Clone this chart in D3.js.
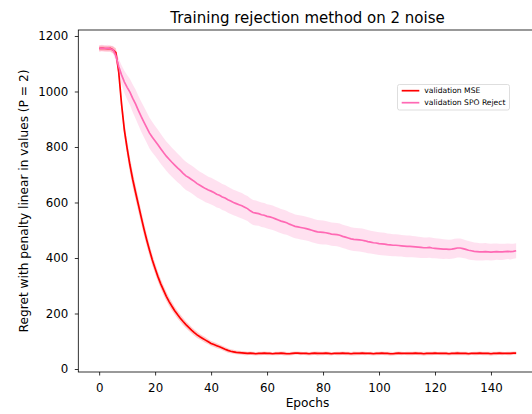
<!DOCTYPE html>
<html lang="en">
<head>
    <meta charset="UTF-8">
    <title>Training rejection method on 2 noise</title>
    <script src="https://d3js.org/d3.v7.min.js"></script>
    <style>
        body { margin: 0; background: #fff; }
        svg { font-family: "DejaVu Sans", sans-serif; }
    </style>
</head>
<body>
    <div class="chart"></div>
    <script>
        // validation MSE, mean per epoch
        const mseMean = [
            1155,1156,1155,1154,1155,1150,1140,1070,955,862,
            795,735,683,637,593,548,505,465,428,393,
            362,333,307,284,262,243,226,210,196,183,
            171,160,150,140,131,123,116,110,104,98,
            92,88,84,80,76,71,67,64,62,60,
            59,58,57,56,57,56,55,56,56,57,
            56,56,55,56,56,57,56,55,55,56,
            57,57,56,56,56,55,56,57,56,56,
            56,57,56,55,56,56,56,57,56,56,
            55,56,56,56,57,56,56,56,55,56,
            56,57,56,56,55,55,56,57,56,56,
            56,56,56,57,56,56,55,56,56,56,
            57,56,56,56,56,55,56,56,57,56,
            56,56,55,56,56,56,57,56,56,56,
            55,56,56,57,56,56,56,56,57,57
        ];
        const mseStd = [
            10,10,10,10,10,12,16,22,26,28,
            28,28,27,26,25,24,23,22,21,20,
            19,18,17,17,16,16,15,14,14,13,
            13,12,12,11,11,11,10,10,10,9,
            9,9,9,8,8,8,8,7,7,7,
            7,7,7,6,6,6,6,6,6,6,
            6,6,5,6,6,6,7,6,6,6,
            6,6,6,5,6,6,6,6,7,6,
            6,6,6,6,5,6,6,6,6,6,
            6,7,6,6,6,6,5,6,6,6,
            6,6,6,6,7,6,6,6,6,5,
            6,6,6,6,6,6,7,6,6,6,
            6,5,6,6,6,6,6,6,7,6,
            6,6,6,5,6,6,6,6,6,6,
            7,6,6,6,6,5,6,6,6,6
        ];
        // validation SPO Reject, mean per epoch
        const spoMean = [
            1155,1156,1155,1156,1154,1150,1128,1090,1060,1035,
            1015,998,975,955,932,910,890,870,850,835,
            822,808,794,780,767,756,745,735,725,716,
            705,696,690,683,676,668,662,656,650,645,
            641,636,630,626,620,616,610,605,600,596,
            592,588,583,578,570,564,562,560,556,554,
            550,548,545,541,537,533,530,527,522,518,
            514,512,510,508,506,503,500,497,494,493,
            492,491,489,486,485,484,482,478,475,472,
            469,467,466,465,464,462,459,457,455,454,
            452,451,450,448,447,446,446,445,444,443,
            442,442,441,440,439,438,437,437,438,436,
            435,434,433,432,432,431,432,434,436,436,
            434,431,428,426,424,423,422,422,423,422,
            421,422,423,422,422,423,424,423,424,426
        ];
        const spoStd = [
            12,12,12,12,12,14,20,28,35,40,
            44,47,50,52,53,54,55,55,55,55,
            54,54,54,53,53,53,52,52,52,51,
            51,51,50,50,50,50,49,49,49,48,
            48,48,48,47,47,47,47,46,46,46,
            46,46,45,45,45,45,45,44,44,44,
            44,44,44,44,44,44,44,43,43,43,
            43,43,43,43,43,43,43,43,43,43,
            43,42,42,42,42,42,42,42,42,42,
            42,42,42,42,42,42,42,41,41,41,
            41,41,41,40,40,40,40,40,39,39,
            39,39,38,38,38,38,37,37,37,37,
            36,36,36,36,35,35,35,35,34,34,
            34,33,33,33,32,32,31,31,31,30,
            30,30,29,29,29,28,28,28,27,27
        ];
        const xTicks = [0, 20, 40, 60, 80, 100, 120, 140];
        const yTicks = [0, 200, 400, 600, 800, 1000, 1200];
        const seriesNames = ["validation MSE", "validation SPO Reject"];
        const seriesColors = ["#ff0000", "#ff69b4"];

        const width = 532;
        const height = 414;
        const margin = { top: 30, right: -5, bottom: 42, left: 78.3 };

        const xScale = d3.scaleLinear()
            .domain([-7.45, 156.45])
            .range([margin.left, width - margin.right]);

        const yScale = d3.scaleLinear()
            .domain([-10.8, 1221.6])
            .range([height - margin.bottom, margin.top]);

        const svg = d3.select('.chart')
            .append('svg')
            .attr('width', width)
            .attr('height', height);

        svg.append('defs').append('clipPath').attr('id', 'plot')
            .append('rect')
            .attr('x', margin.left).attr('y', margin.top)
            .attr('width', width - margin.right - margin.left)
            .attr('height', height - margin.bottom - margin.top);

        const series = [
            { mean: mseMean, std: mseStd },
            { mean: spoMean, std: spoStd }
        ];

        const g = svg.append('g').attr('clip-path', 'url(#plot)');

        series.forEach((s, k) => {
            const area = d3.area()
                .x((d, i) => xScale(i))
                .y0((d, i) => yScale(d - s.std[i]))
                .y1((d, i) => yScale(d + s.std[i]));
            const line = d3.line()
                .x((d, i) => xScale(i))
                .y(d => yScale(d));

            g.append('path')
                .attr('d', area(s.mean))
                .attr('fill', seriesColors[k])
                .attr('fill-opacity', 0.2);
            g.append('path')
                .attr('d', line(s.mean))
                .attr('fill', 'none')
                .attr('stroke', seriesColors[k])
                .attr('stroke-width', 1.7);
        });

        // axes
        const xAxis = svg.append('g')
            .attr('transform', `translate(0,${height - margin.bottom})`)
            .call(d3.axisBottom(xScale).tickValues(xTicks).tickFormat(d3.format('d'))
                .tickSize(3.5).tickPadding(8.5));
        const yAxis = svg.append('g')
            .attr('transform', `translate(${margin.left},0)`)
            .call(d3.axisLeft(yScale).tickValues(yTicks).tickFormat(d3.format('d'))
                .tickSize(3.5).tickPadding(6.5));

        [xAxis, yAxis].forEach(ax => {
            ax.select('.domain').remove();
            ax.selectAll('line').attr('stroke', '#000').attr('stroke-width', 0.8);
            ax.selectAll('text')
                .attr('fill', '#000')
                .style('font-size', '11.8px')
                .style('font-family', '"DejaVu Sans", sans-serif');
        });

        // frame
        svg.append('rect')
            .attr('x', margin.left)
            .attr('y', margin.top)
            .attr('width', width - margin.right - margin.left)
            .attr('height', height - margin.bottom - margin.top)
            .attr('fill', 'none')
            .attr('stroke', '#000')
            .attr('stroke-width', 0.8);

        svg.append('text')
            .attr('x', 307.5).attr('y', 23)
            .attr('text-anchor', 'middle')
            .style('font-size', '15px')
            .text('Training rejection method on 2 noise');

        svg.append('text')
            .attr('x', 307.5).attr('y', 407)
            .attr('text-anchor', 'middle')
            .style('font-size', '12.2px')
            .text('Epochs');

        svg.append('text')
            .attr('transform', 'translate(27.5,201) rotate(-90)')
            .attr('text-anchor', 'middle')
            .style('font-size', '12.2px')
            .text('Regret with penalty linear in values (P = 2)');

        // legend
        const legend = svg.append('g');
        legend.append('rect')
            .attr('x', 397.5).attr('y', 84.5)
            .attr('width', 112).attr('height', 25.5)
            .attr('rx', 2)
            .attr('fill', '#fff').attr('fill-opacity', 0.8)
            .attr('stroke', '#d6d6d6').attr('stroke-width', 0.8);

        seriesNames.forEach((name, k) => {
            const y = 90.7 + k * 12;
            legend.append('line')
                .attr('x1', 401.7).attr('x2', 419.3)
                .attr('y1', y).attr('y2', y)
                .attr('stroke', seriesColors[k])
                .attr('stroke-width', 1.7);
            legend.append('text')
                .attr('x', 424.3).attr('y', y)
                .attr('dy', '0.35em')
                .style('font-size', '7.6px')
                .text(name);
        });
    </script>
</body>
</html>
